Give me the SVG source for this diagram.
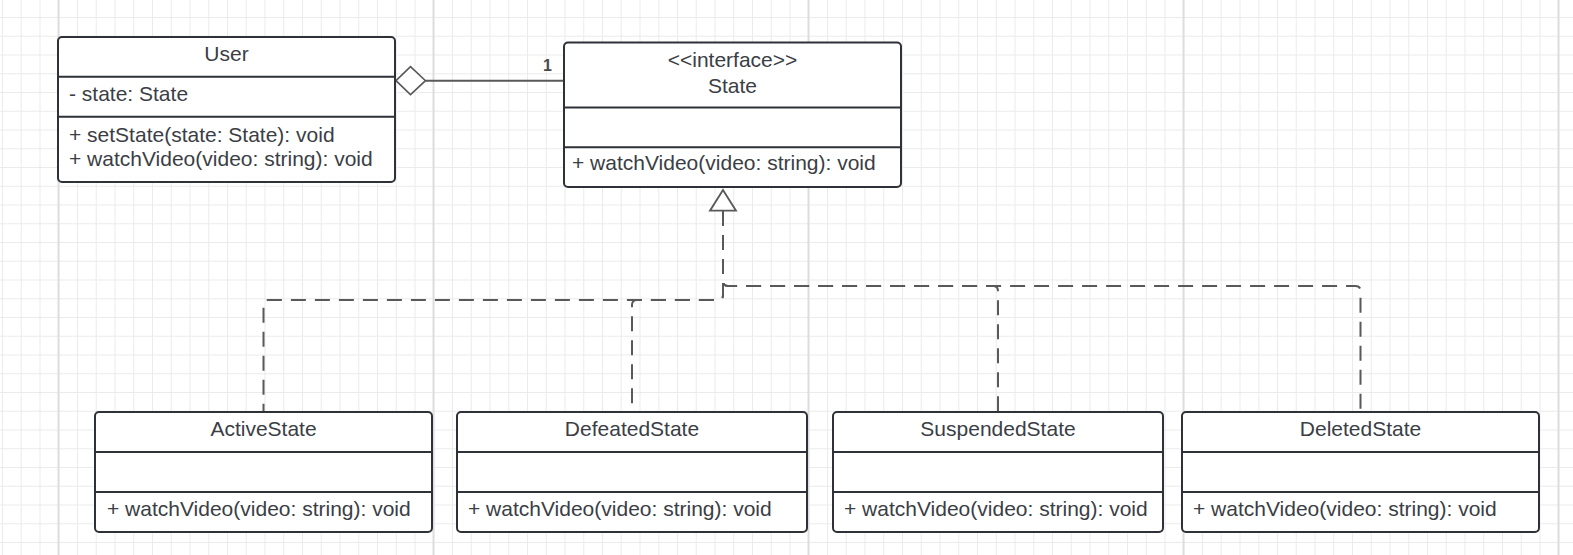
<svg xmlns="http://www.w3.org/2000/svg" width="1573" height="555" viewBox="0 0 1573 555">
  <style>
    .box { fill: #ffffff; stroke: #2e3137; stroke-width: 2; }
    .div { stroke: #2e3137; stroke-width: 2; fill: none; }
    .t { font-family: "Liberation Sans", Arial, sans-serif; font-size: 21px; fill: #3b3e45; }
    .c { text-anchor: middle; }
    .conn { fill: none; stroke: #595959; stroke-width: 2; }
    .dash { stroke-dasharray: 15 9; }
    .lbl { font-family: "Liberation Sans", Arial, sans-serif; font-size: 16px; font-weight: bold; fill: #4a4a4a; text-anchor: middle; }
  </style>
  <defs>
    <pattern id="grid" x="2" y="17" width="75" height="75" patternUnits="userSpaceOnUse">
      <path d="M0.5 0V75M19.25 0V75M38 0V75M56.75 0V75M0 0.5H75M0 19.25H75M0 38H75M0 56.75H75" stroke="#ebebeb" stroke-width="1" fill="none"/>
    </pattern>
  </defs>
  <rect width="1573" height="555" fill="#ffffff"/>
  <rect width="1573" height="555" fill="url(#grid)"/>
  <g id="major-grid" stroke="#dddddd" stroke-width="2">
    <line x1="58.5" y1="0" x2="58.5" y2="555"/>
    <line x1="433.5" y1="0" x2="433.5" y2="555"/>
    <line x1="808.5" y1="0" x2="808.5" y2="555"/>
    <line x1="1183.5" y1="0" x2="1183.5" y2="555"/>
    <line x1="1558.5" y1="0" x2="1558.5" y2="555"/>
  </g>

  <g id="connectors">
    <!-- aggregation User -> State -->
    <line class="conn" x1="425.5" y1="80.7" x2="564" y2="80.7" stroke-width="1.6"/>
    <polygon points="396,80.7 410.5,66.7 425.5,80.7 410.5,94.7" fill="#ffffff" stroke="#595959" stroke-width="1.6"/>
    <text class="lbl" x="547.5" y="70.5">1</text>
    <!-- realizations (drawn from the triangle outward so shared segments keep the same dash phase) -->
    <path class="conn dash" d="M723 211V295Q723 300 718 300H268.5Q263.5 300 263.5 305V412"/>
    <path class="conn dash" d="M723 211V295Q723 300 718 300H637Q632 300 632 305V412"/>
    <path class="conn dash" d="M723 211V281Q723 286 728 286H993Q998 286 998 291V412"/>
    <path class="conn dash" d="M723 211V281Q723 286 728 286H1355.5Q1360.5 286 1360.5 291V412"/>
    <polygon points="723,190 736,210.7 710,210.7" fill="#ffffff" stroke="#595959" stroke-width="1.8"/>
  </g>

  <g id="User">
    <rect class="box" x="58" y="37" width="337" height="145" rx="4"/>
    <line class="div" x1="58" y1="76.7" x2="395" y2="76.7"/>
    <line class="div" x1="58" y1="116.7" x2="395" y2="116.7"/>
    <text class="t c" x="226.5" y="61">User</text>
    <text class="t" x="69" y="101">- state: State</text>
    <text class="t" x="69" y="141.5">+ setState(state: State): void</text>
    <text class="t" x="69" y="166">+ watchVideo(video: string): void</text>
  </g>

  <g id="State">
    <rect class="box" x="564" y="42.5" width="337" height="144.5" rx="4"/>
    <line class="div" x1="564" y1="107.5" x2="901" y2="107.5"/>
    <line class="div" x1="564" y1="147.3" x2="901" y2="147.3"/>
    <text class="t c" x="732.5" y="66.7">&lt;&lt;interface&gt;&gt;</text>
    <text class="t c" x="732.5" y="92.7">State</text>
    <text class="t" x="572" y="170">+ watchVideo(video: string): void</text>
  </g>

  <g id="ActiveState">
    <rect class="box" x="95" y="412" width="337" height="120" rx="4"/>
    <line class="div" x1="95" y1="452" x2="432" y2="452"/>
    <line class="div" x1="95" y1="492" x2="432" y2="492"/>
    <text class="t c" x="263.5" y="436">ActiveState</text>
    <text class="t" x="107" y="516">+ watchVideo(video: string): void</text>
  </g>

  <g id="DefeatedState">
    <rect class="box" x="457" y="412" width="350" height="120" rx="4"/>
    <line class="div" x1="457" y1="452" x2="807" y2="452"/>
    <line class="div" x1="457" y1="492" x2="807" y2="492"/>
    <text class="t c" x="632" y="436">DefeatedState</text>
    <text class="t" x="468" y="516">+ watchVideo(video: string): void</text>
  </g>

  <g id="SuspendedState">
    <rect class="box" x="833" y="412" width="330" height="120" rx="4"/>
    <line class="div" x1="833" y1="452" x2="1163" y2="452"/>
    <line class="div" x1="833" y1="492" x2="1163" y2="492"/>
    <text class="t c" x="998" y="436">SuspendedState</text>
    <text class="t" x="844" y="516">+ watchVideo(video: string): void</text>
  </g>

  <g id="DeletedState">
    <rect class="box" x="1182" y="412" width="357" height="120" rx="4"/>
    <line class="div" x1="1182" y1="452" x2="1539" y2="452"/>
    <line class="div" x1="1182" y1="492" x2="1539" y2="492"/>
    <text class="t c" x="1360.5" y="436">DeletedState</text>
    <text class="t" x="1193" y="516">+ watchVideo(video: string): void</text>
  </g>
</svg>
